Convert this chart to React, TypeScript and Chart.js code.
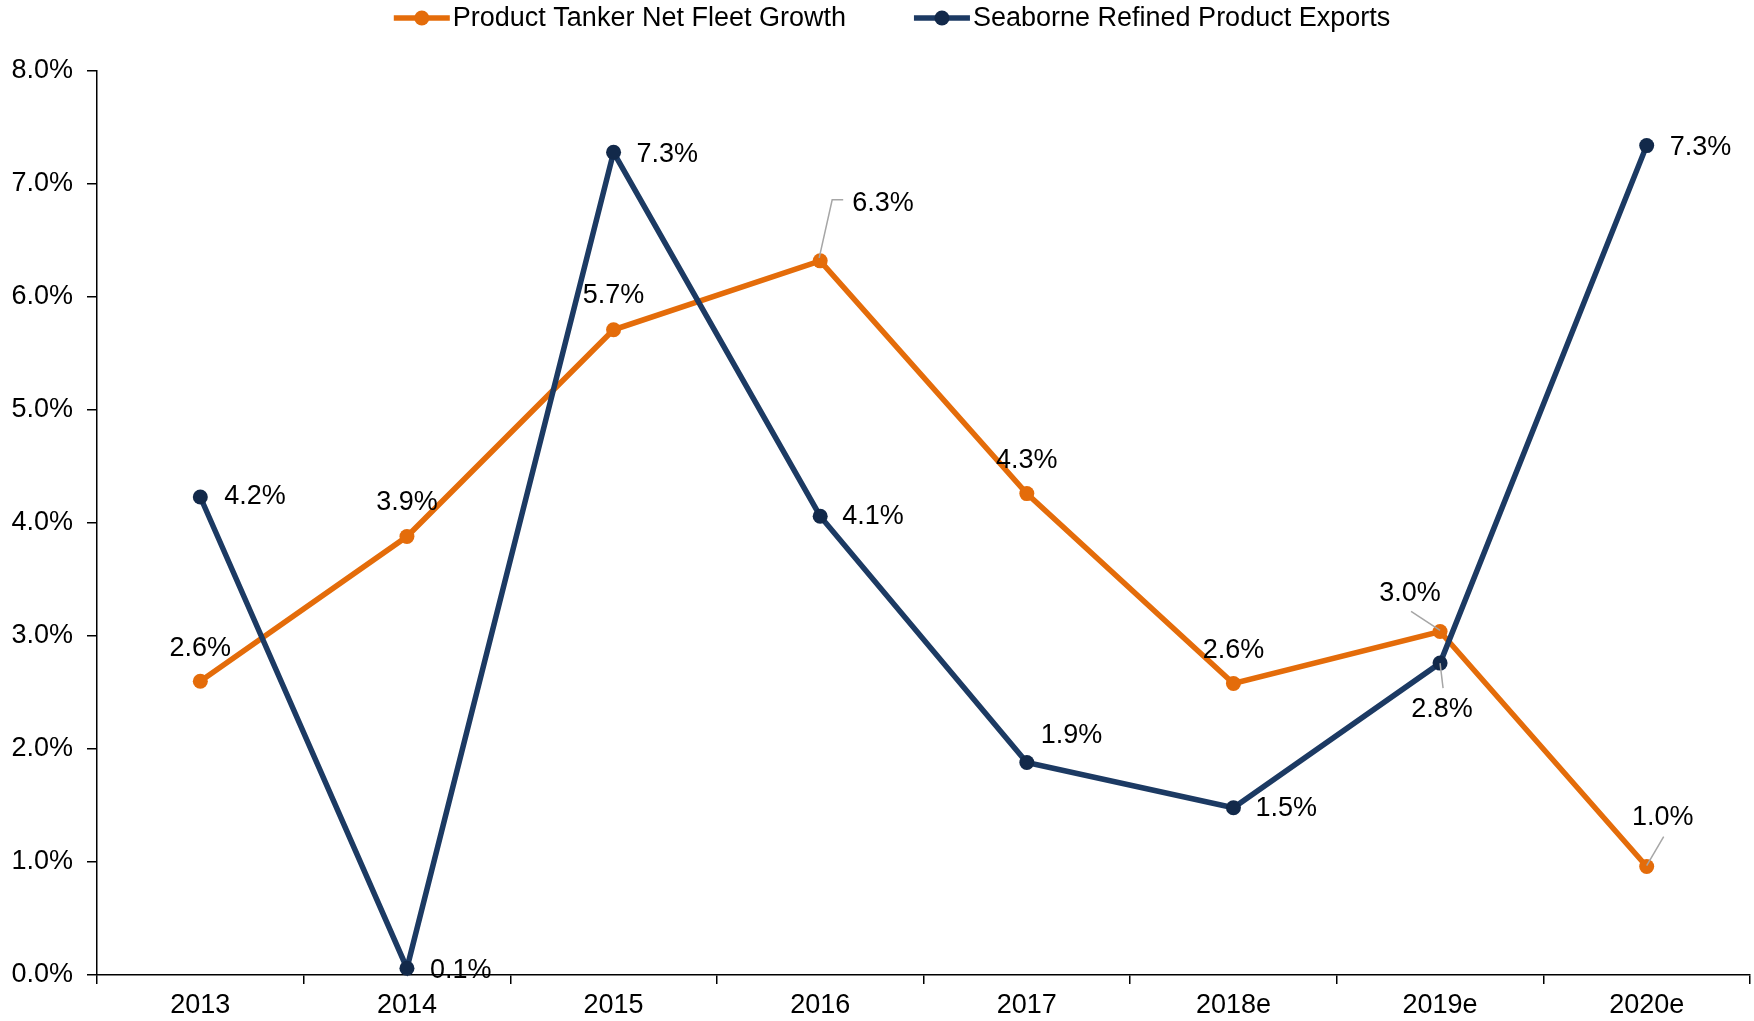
import React, { useEffect, useRef } from "react";
import { Chart, registerables } from "chart.js";

Chart.register(...registerables);

const categories = ["2013", "2014", "2015", "2016", "2017", "2018e", "2019e", "2020e"];
const fleetGrowth = [2.6, 3.88, 5.71, 6.32, 4.26, 2.58, 3.04, 0.96];
const seaborneExports = [4.23, 0.06, 7.28, 4.06, 1.88, 1.48, 2.76, 7.34];
const yTicks = [0, 1, 2, 3, 4, 5, 6, 7, 8];
const seriesNames = ["Product Tanker Net Fleet Growth", "Seaborne Refined Product Exports"];

const ORANGE = "#E46C0A";
const NAVY = "#1C3A63";
const NAVY_POINT = "#12294A";
const FONT_FAMILY = '"Liberation Sans", Arial, Helvetica, sans-serif';
const FONT_SIZE = 27;

type Place = { dx: number; dy: number; align: CanvasTextAlign; leader?: number[][] };

const fleetPlaces: Place[] = [
  { dx: 0, dy: -33, align: "center" },
  { dx: 0, dy: -34, align: "center" },
  { dx: 0, dy: -34, align: "center" },
  { dx: 32, dy: -57, align: "left", leader: [[-1, -3], [12, -61], [23, -61]] },
  { dx: 0, dy: -33, align: "center" },
  { dx: 0, dy: -33, align: "center" },
  { dx: -30, dy: -38, align: "center", leader: [[-29, -20], [0, -1]] },
  { dx: 16, dy: -49, align: "center", leader: [[17, -30], [0, -1]] },
];

const exportPlaces: Place[] = [
  { dx: 24, dy: 0, align: "left" },
  { dx: 23, dy: 2, align: "left" },
  { dx: 23, dy: 2, align: "left" },
  { dx: 22, dy: 0, align: "left" },
  { dx: 14, dy: -27, align: "left" },
  { dx: 22, dy: 1, align: "left" },
  { dx: 2, dy: 46, align: "center", leader: [[0, 0], [3, 25]] },
  { dx: 23, dy: 2, align: "left" },
];

const placesByDataset = [fleetPlaces, exportPlaces];

const dataLabelPlugin = {
  id: "dataLabels",
  afterDatasetsDraw(chart: any) {
    const ctx: CanvasRenderingContext2D = chart.ctx;
    ctx.save();
    ctx.font = `${FONT_SIZE}px ${FONT_FAMILY}`;
    ctx.textBaseline = "middle";
    chart.data.datasets.forEach((ds: any, di: number) => {
      const meta = chart.getDatasetMeta(di);
      const places = placesByDataset[di];
      meta.data.forEach((pt: any, i: number) => {
        const p = places[i];
        const v = ds.data[i] as number;
        if (p.leader) {
          ctx.strokeStyle = "#A6A6A6";
          ctx.lineWidth = 1.5;
          ctx.beginPath();
          p.leader.forEach((q, k) => {
            if (k === 0) ctx.moveTo(pt.x + q[0], pt.y + q[1]);
            else ctx.lineTo(pt.x + q[0], pt.y + q[1]);
          });
          ctx.stroke();
        }
        ctx.fillStyle = "#000";
        ctx.textAlign = p.align;
        ctx.fillText(v.toFixed(1) + "%", pt.x + p.dx, pt.y + p.dy);
      });
    });
    ctx.restore();
  },
};

const legendPlugin = {
  id: "customLegend",
  afterDraw(chart: any) {
    const ctx: CanvasRenderingContext2D = chart.ctx;
    ctx.save();
    ctx.font = `${FONT_SIZE}px ${FONT_FAMILY}`;
    ctx.textBaseline = "middle";
    ctx.textAlign = "left";
    const lineW = 56;
    const gap = 3;
    const itemGap = 68;
    const items = chart.data.datasets.map((ds: any) => ({
      text: ds.label as string,
      color: ds.borderColor as string,
      point: ds.pointBackgroundColor as string,
      w: ctx.measureText(ds.label).width,
    }));
    const total =
      items.reduce((s: number, it: any) => s + lineW + gap + it.w, 0) + itemGap * (items.length - 1);
    let x = chart.width / 2 + 15 - total / 2;
    const y = 18;
    items.forEach((it: any) => {
      ctx.strokeStyle = it.color;
      ctx.lineWidth = 5.5;
      ctx.beginPath();
      ctx.moveTo(x, y);
      ctx.lineTo(x + lineW, y);
      ctx.stroke();
      ctx.fillStyle = it.point;
      ctx.beginPath();
      ctx.arc(x + lineW / 2, y, 7.5, 0, Math.PI * 2);
      ctx.fill();
      ctx.fillStyle = "#000";
      ctx.fillText(it.text, x + lineW + gap, y + 1);
      x += lineW + gap + it.w + itemGap;
    });
    ctx.restore();
  },
};

export default function App() {
  const canvasRef = useRef<HTMLCanvasElement | null>(null);

  useEffect(() => {
    if (!canvasRef.current) return;
    const chart = new Chart(canvasRef.current, {
      type: "line",
      data: {
        labels: categories,
        datasets: [
          {
            label: seriesNames[0],
            data: fleetGrowth,
            borderColor: ORANGE,
            backgroundColor: ORANGE,
            pointBackgroundColor: ORANGE,
            pointBorderColor: ORANGE,
            borderWidth: 5.5,
            pointRadius: 7.5,
            pointBorderWidth: 0,
            tension: 0,
            order: 1,
            clip: false as any,
          },
          {
            label: seriesNames[1],
            data: seaborneExports,
            borderColor: NAVY,
            backgroundColor: NAVY,
            pointBackgroundColor: NAVY_POINT,
            pointBorderColor: NAVY_POINT,
            borderWidth: 5.5,
            pointRadius: 7.5,
            pointBorderWidth: 0,
            tension: 0,
            order: 0,
            clip: false as any,
          },
        ],
      },
      options: {
        responsive: false,
        animation: false,
        devicePixelRatio: 1,
        layout: { autoPadding: false, padding: { top: 71, left: 0, right: 4, bottom: 0 } },
        plugins: {
          legend: { display: false },
          tooltip: { enabled: false },
        },
        scales: {
          x: {
            type: "category",
            offset: true,
            grid: {
              offset: true,
              drawOnChartArea: false,
              drawTicks: true,
              tickLength: 9,
              color: "#000",
              lineWidth: 1.5,
            },
            border: { display: true, color: "#000", width: 1.5 },
            ticks: {
              color: "#000",
              font: { family: FONT_FAMILY, size: FONT_SIZE },
              padding: 5,
              maxRotation: 0,
              autoSkip: false,
            },
            afterFit: (axis: any) => {
              axis.height = 46;
              axis.paddingLeft = 0;
              axis.paddingRight = 0;
            },
          },
          y: {
            min: 0,
            max: 8,
            grid: {
              drawOnChartArea: false,
              drawTicks: true,
              tickLength: 10,
              color: "#000",
              lineWidth: 1.5,
            },
            border: { display: true, color: "#000", width: 1.5 },
            ticks: {
              color: "#000",
              font: { family: FONT_FAMILY, size: FONT_SIZE },
              padding: 14,
              callback: (v: any) => Number(v).toFixed(1) + "%",
            },
            afterBuildTicks: (axis: any) => {
              axis.ticks = yTicks.map((v) => ({ value: v }));
            },
            afterFit: (axis: any) => {
              axis.width = 97;
              axis.paddingTop = 0;
              axis.paddingBottom = 0;
            },
          },
        },
      },
      plugins: [dataLabelPlugin, legendPlugin],
    });
    return () => chart.destroy();
  }, []);

  return (
    <div style={{ position: "absolute", left: 0, top: 0, width: 1754, height: 1021, background: "#fff" }}>
      <canvas ref={canvasRef} width={1754} height={1021} style={{ width: 1754, height: 1021, display: "block" }} />
    </div>
  );
}
